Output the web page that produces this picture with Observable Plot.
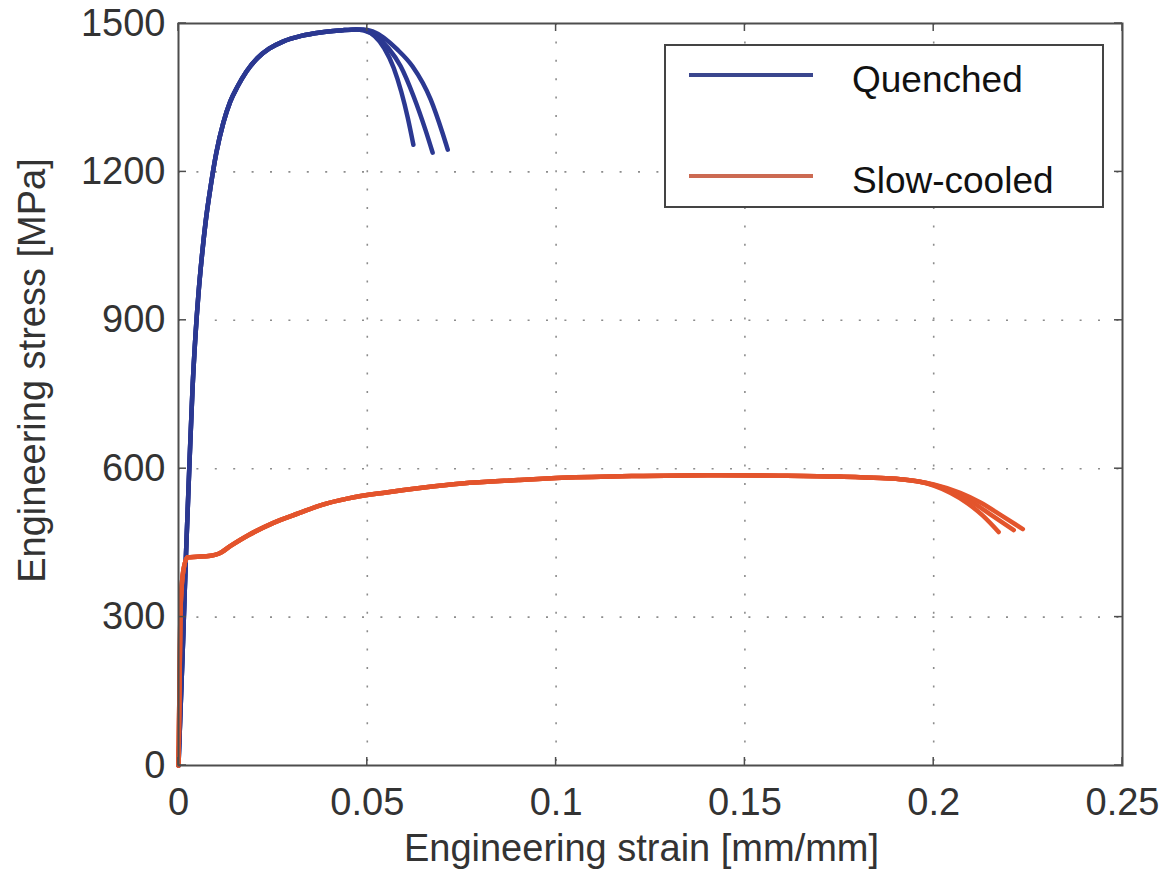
<!DOCTYPE html>
<html>
<head>
<meta charset="utf-8">
<script src="https://cdn.jsdelivr.net/npm/d3@7"></script>
<script src="https://cdn.jsdelivr.net/npm/@observablehq/plot@0.6"></script>
<style>
  html, body { margin: 0; padding: 0; background: #fff; }
  #chart svg { display: block; }
</style>
</head>
<body>
<div id="chart"></div>
<script>
// ---------------- data ----------------
const xTicks = [0, 0.05, 0.1, 0.15, 0.2, 0.25];
const xTickLabels = ["0", "0.05", "0.1", "0.15", "0.2", "0.25"];
const yTicks = [0, 300, 600, 900, 1200, 1500];
const yTickLabels = ["0", "300", "600", "900", "1200", "1500"];

const seriesNames = ["Quenched", "Slow-cooled"];
const seriesColors = ["#2b3891", "#e3542c"];
const legendColors = ["#3a468e", "#cc6a52"];

// Quenched: common elastic/hardening rise
const quenchedRiseStrain = [0, 0.0012, 0.002, 0.0029, 0.0037, 0.0045, 0.0053, 0.0062, 0.0072, 0.0085, 0.010, 0.0119, 0.0137, 0.0156, 0.018, 0.0209, 0.024, 0.0278, 0.0325, 0.0376, 0.043, 0.047];
const quenchedRiseStress = [0, 250, 430, 610, 760, 870, 955, 1030, 1100, 1170, 1238, 1300, 1342, 1372, 1403, 1430, 1449, 1464, 1475, 1482, 1486, 1488];
// Quenched: three specimens after the peak
const quenchedTailStrainA = [0.049, 0.052, 0.0545, 0.057, 0.059, 0.0607, 0.0622];
const quenchedTailStressA = [1486, 1474, 1450, 1410, 1362, 1310, 1255];
const quenchedTailStrainB = [0.049, 0.052, 0.0556, 0.0588, 0.0623, 0.0654, 0.0673];
const quenchedTailStressB = [1487, 1476, 1450, 1414, 1352, 1285, 1239];
const quenchedTailStrainC = [0.049, 0.0514, 0.058, 0.062, 0.0668, 0.0699, 0.0713];
const quenchedTailStressC = [1488, 1484, 1447, 1413, 1346, 1279, 1245];

// Slow-cooled: common rise with yield plateau
const slowRiseStrain = [0, 0.0005, 0.0012, 0.0024, 0.005, 0.0085, 0.0106, 0.014, 0.0186, 0.025, 0.0319, 0.038, 0.045, 0.055, 0.065, 0.075, 0.09, 0.10, 0.12, 0.14, 0.159, 0.175, 0.186, 0.192, 0.196];
const slowRiseStress = [0, 308, 390, 421, 422, 424, 428, 445, 466, 490, 510, 527, 540, 552, 562, 570, 577, 581, 585, 587, 586, 584, 581, 578, 574];
// Slow-cooled: three specimens near fracture
const slowTailStrainA = [0.200, 0.2045, 0.209, 0.213, 0.2172];
const slowTailStressA = [566, 551, 530, 505, 472];
const slowTailStrainB = [0.200, 0.2058, 0.2105, 0.2155, 0.2212];
const slowTailStressB = [567, 551, 531, 505, 476];
const slowTailStrainC = [0.200, 0.207, 0.2125, 0.218, 0.2236];
const slowTailStressC = [568, 551, 531, 505, 478];

// ---------------- build table ----------------
function run(series, id, riseX, riseY, tailX, tailY) {
  const xs = riseX.concat(tailX), ys = riseY.concat(tailY);
  return xs.map((x, i) => ({series, run: series + id, strain: x, stress: ys[i]}));
}
const quenched = [
  ...run(seriesNames[0], "A", quenchedRiseStrain, quenchedRiseStress, quenchedTailStrainA, quenchedTailStressA),
  ...run(seriesNames[0], "B", quenchedRiseStrain, quenchedRiseStress, quenchedTailStrainB, quenchedTailStressB),
  ...run(seriesNames[0], "C", quenchedRiseStrain, quenchedRiseStress, quenchedTailStrainC, quenchedTailStressC)
];
const slow = [
  ...run(seriesNames[1], "A", slowRiseStrain, slowRiseStress, slowTailStrainA, slowTailStressA),
  ...run(seriesNames[1], "B", slowRiseStrain, slowRiseStress, slowTailStrainB, slowTailStressB),
  ...run(seriesNames[1], "C", slowRiseStrain, slowRiseStress, slowTailStrainC, slowTailStressC)
];

const FONT = "'Liberation Sans', Arial, Helvetica, sans-serif";

// inner tick marks on all four sides (MATLAB style)
function innerTicks(index, scales, values, dim) {
  const g = d3.create("svg:g").attr("stroke", "#4d4d4d").attr("stroke-width", 1.5);
  const left = dim.marginLeft, right = dim.width - dim.marginRight;
  const top = dim.marginTop, bottom = dim.height - dim.marginBottom;
  const len = 8;
  for (const t of xTicks) {
    const x = scales.x(t);
    g.append("line").attr("x1", x).attr("x2", x).attr("y1", bottom).attr("y2", bottom - len);
    g.append("line").attr("x1", x).attr("x2", x).attr("y1", top).attr("y2", top + len);
  }
  for (const t of yTicks) {
    const y = scales.y(t);
    g.append("line").attr("y1", y).attr("y2", y).attr("x1", left).attr("x2", left + len);
    g.append("line").attr("y1", y).attr("y2", y).attr("x1", right).attr("x2", right - len);
  }
  return g.node();
}

// boxed legend in the upper right of the frame
function legend(index, scales, values, dim) {
  const right = dim.width - dim.marginRight, top = dim.marginTop;
  const bx0 = right - 457, bx1 = right - 19, by0 = top + 22, by1 = top + 184;
  const g = d3.create("svg:g");
  g.append("rect").attr("x", bx0).attr("y", by0).attr("width", bx1 - bx0).attr("height", by1 - by0)
    .attr("fill", "#fff").attr("stroke", "#444").attr("stroke-width", 2);
  const rows = [top + 52, top + 153];
  seriesNames.forEach((name, i) => {
    g.append("line").attr("x1", bx0 + 24).attr("x2", bx0 + 148).attr("y1", rows[i]).attr("y2", rows[i])
      .attr("stroke", legendColors[i]).attr("stroke-width", 4);
    g.append("text").attr("x", bx0 + 187).attr("y", rows[i] + 17)
      .attr("text-anchor", "start")
      .attr("font-size", 37).attr("font-family", FONT).attr("fill", "#111").text(name);
  });
  return g.node();
}

const chart = Plot.plot({
  width: 1168,
  height: 877,
  marginLeft: 178,
  marginRight: 46,
  marginTop: 23,
  marginBottom: 112,
  style: {fontSize: "38px", fontFamily: FONT, color: "#333", background: "#fff", overflow: "visible"},
  x: {domain: [0, 0.25], ticks: xTicks, tickSize: 0, tickPadding: 23,
      tickFormat: d => xTickLabels[xTicks.indexOf(d)], label: null},
  y: {domain: [0, 1500], ticks: yTicks, tickSize: 0, tickPadding: 13,
      tickFormat: d => yTickLabels[yTicks.indexOf(d)], label: null},
  marks: [
    Plot.ruleX(xTicks.slice(1, -1), {stroke: "#8c8c8c", strokeWidth: 1.6, strokeDasharray: "2,16.4"}),
    Plot.ruleY(yTicks.slice(1, -1), {stroke: "#8c8c8c", strokeWidth: 1.6, strokeDasharray: "2,16.4"}),
    Plot.line(quenched, {x: "strain", y: "stress", z: "run", stroke: seriesColors[0], strokeWidth: 4.5, curve: "monotone-x"}),
    Plot.line(slow, {x: "strain", y: "stress", z: "run", stroke: seriesColors[1], strokeWidth: 4.5, curve: "monotone-x"}),
    innerTicks,
    Plot.frame({stroke: "#4d4d4d", strokeWidth: 2}),
    legend,
    Plot.text(["Engineering strain [mm/mm]"], {frameAnchor: "bottom", textAnchor: "middle", lineAnchor: "middle", dy: 83, dx: -9, fontSize: 38, fill: "#333"}),
    Plot.text(["Engineering stress [MPa]"], {frameAnchor: "left", textAnchor: "middle", lineAnchor: "middle", dx: -146, dy: -24, rotate: -90, fontSize: 38, fill: "#333"})
  ]
});
document.getElementById("chart").appendChild(chart);
</script>
</body>
</html>
